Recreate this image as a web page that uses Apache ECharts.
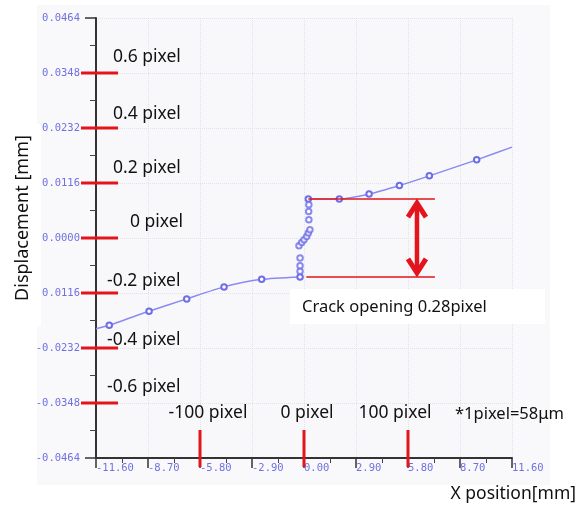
<!DOCTYPE html>
<html><head><meta charset="utf-8">
<script src="https://cdn.jsdelivr.net/npm/echarts@6/dist/echarts.min.js"></script>
<style>html,body{margin:0;padding:0;background:#fff}#c{width:583px;height:514px}</style>
</head><body><div id="c"></div>
<script>
// ---- data ----
const xTickLabels = ['-11.60','-8.70','-5.80','-2.90','0.00','2.90','5.80','8.70','11.60'];
const yTickLabels = ['-0.0464','-0.0348','-0.0232','-0.0116','0.0000','0.0116','0.0232','0.0348','0.0464'];
const leftX  = [-11.6, -10.86, -8.64, -6.54, -4.46, -2.36, -0.22];
const leftY  = [-0.01916, -0.0184, -0.01545, -0.01284, -0.01031, -0.00872, -0.00821];
const crackX = [-0.22, -0.22, -0.22, -0.28, -0.13, 0.00, 0.15, 0.24, 0.33, 0.27, 0.26, 0.27];
const crackY = [-0.00703, -0.00583, -0.00421, -0.00162, -0.00093, -0.00036, 0.00034, 0.00105, 0.00175, 0.00385, 0.0056, 0.00701];
const rightX = [0.24, 1.97, 3.63, 5.32, 6.99, 9.63, 11.6];
const rightY = [0.00821, 0.00821, 0.00926, 0.01107, 0.01311, 0.01648, 0.01916];
const pixelTickValues = [0.0348, 0.0232, 0.0116, 0, -0.0116, -0.0232, -0.0348];
const pixelTickLabels = ['0.6 pixel','0.4 pixel','0.2 pixel','0 pixel','-0.2 pixel','-0.4 pixel','-0.6 pixel'];
const xMarkValues = [-5.8, 0, 5.8];
const xMarkLabels = ['-100 pixel','0 pixel','100 pixel'];
const crackTop = 0.00821, crackBottom = -0.00821;
const crackLineX = [0.24, 7.3];
const arrowX = 6.3;

const RED = '#e3141b';
const BLUE_LINE = '#8a8af2';
const BLUE_MARK = '#6e6ee8';

// line data: endpoints at axis edges carry no marker
function lineData(xs, ys){
  return xs.map((x,i)=>{
    const edge = (x === -11.6 || x === 11.6);
    return edge ? { value: [x, ys[i]], symbol: 'none' } : [x, ys[i]];
  });
}
function pts(xs, ys){ return xs.map((x,i)=>[x, ys[i]]); }

const chart = echarts.init(document.getElementById('c'));
const option = {
  backgroundColor: '#ffffff',
  animation: false,
  grid: { left: 96, top: 18, width: 416, height: 440, show: true, backgroundColor: '#f8f8fb', borderWidth: 0 },
  xAxis: {
    type: 'value', min: -11.6, max: 11.6, interval: 2.9,
    axisLine: { onZero: false, lineStyle: { color: '#333', width: 2 } },
    axisTick: { length: 10, lineStyle: { color: '#333', width: 1.5 } },
    minorTick: { show: true, splitNumber: 2, length: 5, lineStyle: { color: '#444', width: 1 } },
    axisLabel: { margin: 5, align: 'left', color: '#7070e0', fontFamily: 'DejaVu Sans Mono', fontSize: 10.5,
      formatter: v => xTickLabels[Math.round((v + 11.6) / 2.9)] },
    splitLine: { show: true, lineStyle: { color: '#e2e2ea', type: 'dotted' } }
  },
  yAxis: {
    type: 'value', min: -0.0464, max: 0.0464, interval: 0.0116,
    axisLine: { onZero: false, lineStyle: { color: '#333', width: 2 } },
    axisTick: { length: 11, lineStyle: { color: '#333', width: 1.5 } },
    minorTick: { show: true, splitNumber: 2, length: 6, lineStyle: { color: '#444', width: 1 } },
    axisLabel: { margin: 16, color: '#7070e0', fontFamily: 'DejaVu Sans Mono', fontSize: 10.5,
      padding: [0, 0, 5, 0],
      formatter: v => yTickLabels[Math.round((v + 0.0464) / 0.0116)] },
    splitLine: { show: true, lineStyle: { color: '#e2e2ea', type: 'dotted' } }
  },
  graphic: [
    { type: 'rect', z: -100, shape: { x: 37, y: 5, width: 513, height: 480 }, style: { fill: '#f9f9fb' } },
    { type: 'rect', z: 50, shape: { x: 0, y: 124, width: 41, height: 202 }, style: { fill: '#ffffff' } },
    { type: 'text', z: 51, x: 23, y: 218, rotation: Math.PI / 2,
      style: { text: 'Displacement [mm]', font: '18px "Noto Sans"', fill: '#111', textAlign: 'center', textVerticalAlign: 'middle' } },
    { type: 'text', z: 51, x: 576, y: 494,
      style: { text: 'X position[mm]', font: '17.5px "Noto Sans"', fill: '#111', textAlign: 'right', textVerticalAlign: 'middle' } },
    { type: 'rect', z: 50, shape: { x: 290, y: 289, width: 255, height: 35 }, style: { fill: '#ffffff' } },
    { type: 'text', z: 51, x: 302, y: 307,
      style: { text: 'Crack opening 0.28pixel', font: '16.5px "Noto Sans"', fill: '#111', textAlign: 'left', textVerticalAlign: 'middle' } },
    { type: 'text', z: 51, x: 455, y: 414,
      style: { text: '*1pixel=58\u03bcm', font: '16.5px "Noto Sans"', fill: '#111', textAlign: 'left', textVerticalAlign: 'middle' } }
  ],
  series: [
    { type: 'line', data: lineData(leftX, leftY), z: 5,
      lineStyle: { color: BLUE_LINE, width: 1.5 }, symbol: 'emptyCircle', symbolSize: 5.5,
      itemStyle: { color: BLUE_MARK, borderColor: BLUE_MARK, borderWidth: 1.2 },
      showAllSymbol: true, smooth: 0.2 },
    { type: 'line', data: lineData(rightX, rightY), z: 5,
      lineStyle: { color: BLUE_LINE, width: 1.5 }, symbol: 'emptyCircle', symbolSize: 5.5,
      itemStyle: { color: BLUE_MARK, borderColor: BLUE_MARK, borderWidth: 1.2 },
      showAllSymbol: true, smooth: 0.2 },
    { type: 'scatter', data: pts(crackX, crackY), z: 5, symbol: 'emptyCircle', symbolSize: 5.5,
      itemStyle: { color: BLUE_MARK, borderColor: BLUE_MARK, borderWidth: 1.2 } },
    // red ticks on y axis with labels
    { type: 'custom', z: 10, clip: false, silent: true,
      data: pixelTickValues.map((v, i) => [v, i]),
      renderItem: (params, api) => {
        const v = api.value(0), i = api.value(1);
        const p = api.coord([-11.6, v]);
        const offs = [-16, -14, -15, -16, -12, -8, -16];
        const lx = [17, 17, 17, 34, 11, 11, 11];
        return { type: 'group', children: [
          { type: 'line', shape: { x1: p[0] - 15, y1: p[1], x2: p[0] + 22, y2: p[1] }, style: { stroke: RED, lineWidth: 3 } },
          { type: 'text', x: p[0] + lx[i], y: p[1] + offs[i], style: { text: pixelTickLabels[i], font: '17.5px "Noto Sans"', fill: '#111', textAlign: 'left', textVerticalAlign: 'middle' } }
        ] };
      }
    },
    // red marks on x axis with labels
    { type: 'custom', z: 10, clip: false, silent: true,
      data: xMarkValues.map((v, i) => [v, i]),
      renderItem: (params, api) => {
        const v = api.value(0), i = api.value(1);
        const p = api.coord([v, -0.0464]);
        const dx = [8, 3, -13];
        return { type: 'group', children: [
          { type: 'line', shape: { x1: p[0], y1: p[1] - 28, x2: p[0], y2: p[1] + 9 }, style: { stroke: RED, lineWidth: 3 } },
          { type: 'text', x: p[0] + dx[i], y: p[1] - 45, style: { text: xMarkLabels[i], font: '17.5px "Noto Sans"', fill: '#111', textAlign: 'center', textVerticalAlign: 'middle' } }
        ] };
      }
    },
    // crack opening lines and arrow
    { type: 'custom', z: 10, clip: false, silent: true,
      data: [[crackTop, crackBottom]],
      renderItem: (params, api) => {
        const t1 = api.coord([crackLineX[0], crackTop]);
        const t2 = api.coord([crackLineX[1], crackTop]);
        const b1 = api.coord([crackLineX[0] - 0.11, crackBottom]);
        const b2 = api.coord([crackLineX[1], crackBottom]);
        const a = api.coord([arrowX, crackTop]);
        const b = api.coord([arrowX, crackBottom]);
        const ax = a[0], top = a[1] + 2, bot = b[1] - 2;
        return { type: 'group', children: [
          { type: 'line', shape: { x1: t1[0], y1: t1[1], x2: t2[0], y2: t2[1] }, style: { stroke: RED, lineWidth: 1.5 } },
          { type: 'line', shape: { x1: b1[0], y1: b1[1], x2: b2[0], y2: b2[1] }, style: { stroke: RED, lineWidth: 1.5 } },
          { type: 'line', shape: { x1: ax, y1: top + 3, x2: ax, y2: bot - 3 }, style: { stroke: RED, lineWidth: 4.5 } },
          { type: 'polyline', shape: { points: [[ax - 9, top + 16], [ax, top + 2], [ax + 9, top + 16]] }, style: { stroke: RED, lineWidth: 5, fill: null, lineJoin: 'miter' } },
          { type: 'polyline', shape: { points: [[ax - 9, bot - 16], [ax, bot - 2], [ax + 9, bot - 16]] }, style: { stroke: RED, lineWidth: 5, fill: null, lineJoin: 'miter' } }
        ] };
      }
    }
  ]
};
chart.setOption(option);
</script>
</body></html>
